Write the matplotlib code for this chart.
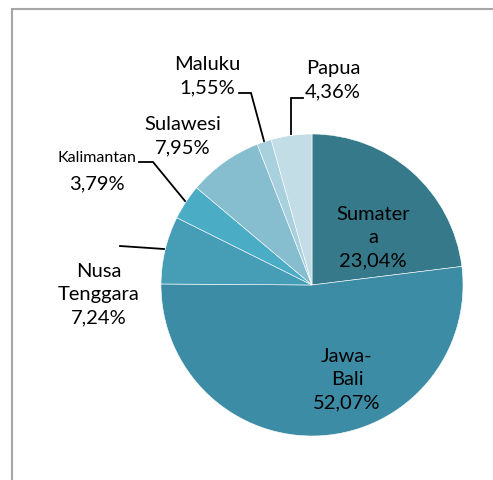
import matplotlib.pyplot as plt
from matplotlib.patches import Rectangle

regions = ["Sumatera", "Jawa-Bali", "Nusa Tenggara", "Kalimantan", "Sulawesi", "Maluku", "Papua"]
shares = [23.04, 52.07, 7.24, 3.79, 7.95, 1.55, 4.36]
label_text = ["Sumater\na", "Jawa-\nBali", "Nusa\nTenggara", "Kalimantan", "Sulawesi", "Maluku", "Papua"]
colors = ["#35798A", "#3D8CA5", "#459DB6", "#4BACC6", "#86BED0", "#A9D0DD", "#C3DDE6"]

W, H = 493, 481
CX, CY, R = 312, 286, 151  # pie centre / radius in pixels


def px(x, y):
    # pixel (from top-left) -> data coords with pie radius 1
    return (x - CX) / R, (CY - y) / R


# label centre positions (pixels)
label_pos = {
    "Sumatera": (373, 238),
    "Jawa-Bali": (347, 380),
    "Nusa Tenggara": (99, 295),
    "Kalimantan": (97, 171),
    "Sulawesi": (183, 136),
    "Maluku": (207, 76),
    "Papua": (333, 80),
}
# leader lines (pixels)
leaders = {
    "Nusa Tenggara": [(120, 247), (164, 250)],
    "Kalimantan": [(139, 163), (153, 163), (185, 202)],
    "Maluku": [(239, 94), (251, 94), (264, 142)],
    "Papua": [(303, 99), (291, 99), (291, 135)],
}

fig = plt.figure(figsize=(W / 100, H / 100), dpi=100)
ax = fig.add_axes([0, 0, 1, 1])

ax.pie(shares, colors=colors, startangle=90, counterclock=False, radius=1,
       wedgeprops=dict(edgecolor="white", linewidth=0.4))
ax.set_aspect("auto")
ax.set_xlim(px(0, 0)[0], px(W, 0)[0])
ax.set_ylim(px(0, H)[1], px(0, 0)[1])
ax.axis("off")

for name, lines in leaders.items():
    xs, ys = zip(*[px(x, y) for x, y in lines])
    ax.plot(xs, ys, color="black", lw=1.3, solid_joinstyle="miter")

for name, txt, val in zip(regions, label_text, shares):
    x, y = px(*label_pos[name])
    pct = f"{val:.2f}".replace(".", ",") + "%"
    if name == "Kalimantan":
        ax.text(x, y + 12.5 / R, txt, ha="center", va="center", fontsize=11.5,
                family=["Lato", "DejaVu Sans"], color="black")
        ax.text(x, y - 12.5 / R, pct, ha="center", va="center", fontsize=14.5,
                family=["Lato", "DejaVu Sans"], color="black")
    else:
        ax.text(x, y, txt + "\n" + pct, ha="center", va="center", fontsize=14.5,
                family=["Lato", "DejaVu Sans"], linespacing=1.45, color="black")

# chart frame (cut off at right and bottom)
fig.patches.append(Rectangle((12 / W, -0.1), 1.2, (H - 10) / H + 0.1,
                             transform=fig.transFigure, fill=False,
                             edgecolor="#A6A6A6", lw=1.5))

fig.savefig("out.png", dpi=100)
